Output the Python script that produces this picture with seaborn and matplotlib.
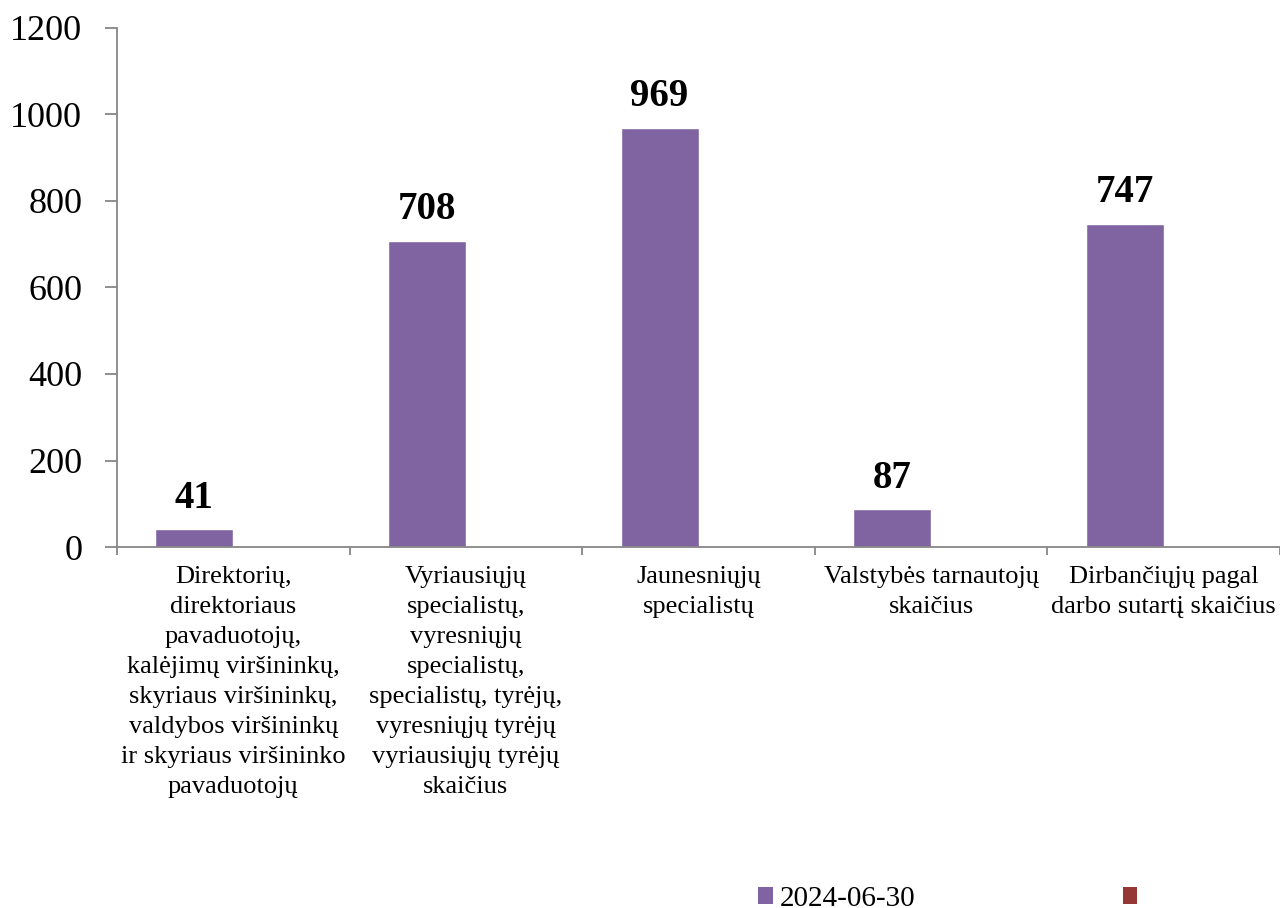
import numpy as np
import pandas as pd
import matplotlib
matplotlib.use("Agg")
import matplotlib.pyplot as plt
from matplotlib.patches import Patch
import seaborn as sns

# duomenys
kategorijos = [
    "Direktorių,\ndirektoriaus\npavaduotojų,\nkalėjimų viršininkų,\nskyriaus viršininkų,\nvaldybos viršininkų\nir skyriaus viršininko\npavaduotojų",
    "Vyriausiųjų\nspecialistų,\nvyresniųjų\nspecialistų,\nspecialistų, tyrėjų,\nvyresniųjų tyrėjų\nvyriausiųjų tyrėjų\nskaičius",
    "Jaunesniųjų\nspecialistų",
    "Valstybės tarnautojų\nskaičius",
    "Dirbančiųjų pagal\ndarbo sutartį skaičius",
]
reiksmes = [41, 708, 969, 87, 747]
reiksmes_2 = [np.nan] * 5  # antra serija tuščia
serijos = ["2024-06-30", " "]

spalva = "#8064A2"
raudona = "#953735"
pilka = "#878787"

sns.set_theme(style="white")
plt.rcParams["font.family"] = ["Liberation Serif", "DejaVu Serif"]
plt.rcParams["text.color"] = "black"
plt.rcParams["xtick.labelcolor"] = "black"
plt.rcParams["ytick.labelcolor"] = "black"

df = pd.DataFrame({
    "kat": kategorijos * 2,
    "n": reiksmes + reiksmes_2,
    "serija": [serijos[0]] * 5 + [serijos[1]] * 5,
})

fig = plt.figure(figsize=(12.8, 9.08), dpi=100)
ax = fig.add_axes([117 / 1280, 1 - 547 / 908, 1 - 117 / 1280, (547 - 28) / 908])

sns.barplot(data=df, x="kat", y="n", hue="serija", palette=[spalva, raudona],
            saturation=1, width=0.67, dodge=True, legend=False, ax=ax)

ax.set_ylim(0, 1200)
ax.set_xlim(-0.5, len(kategorijos) - 0.5)
ax.set_yticks(np.arange(0, 1201, 200))
ax.set_xlabel("")
ax.set_ylabel("")

# reikšmės virš stulpelių
for b, v in zip(ax.containers[0], reiksmes):
    ax.annotate(str(v), (b.get_x() + b.get_width() / 2, v), xytext=(0, 9),
                textcoords="offset points", ha="center", va="bottom",
                fontsize=28, fontweight="bold", color="black")

for s in ["top", "right"]:
    ax.spines[s].set_visible(False)
for s in ["left", "bottom"]:
    ax.spines[s].set_color(pilka)
    ax.spines[s].set_linewidth(1.3)

ax.tick_params(axis="y", which="major", direction="out", length=9, width=1.3,
               color=pilka, labelsize=26, pad=16, left=True)
ax.tick_params(axis="x", which="major", length=0, labelsize=19, pad=14)
ax.set_xticks(np.arange(-0.5, len(kategorijos), 1.0), minor=True)
ax.tick_params(axis="x", which="minor", direction="out", length=6, width=1.3,
               color=pilka, bottom=True)
for t in ax.get_xticklabels():
    t.set_linespacing(1.47)
    t.set_ha("center")
    t.set_va("top")
    t.set_multialignment("center")

# legenda
rank = [Patch(facecolor=spalva, edgecolor="none"), Patch(facecolor=raudona, edgecolor="none")]
fig.legend(rank, serijos, loc="center left", bbox_to_anchor=(732 / 1280, 1 - 899 / 908),
           ncol=2, frameon=False, fontsize=21, handlelength=0.5, handleheight=0.5,
           handletextpad=0.25, columnspacing=7.1)

fig.savefig("out.png", dpi=100)
